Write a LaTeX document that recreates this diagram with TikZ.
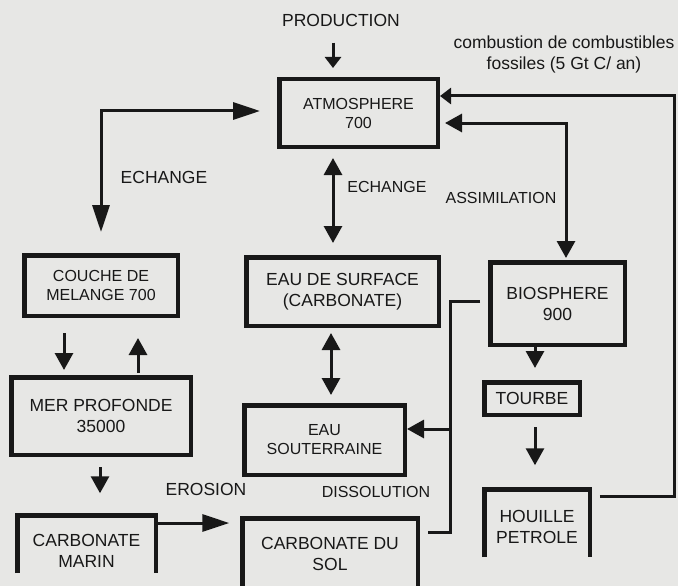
\documentclass[tikz,border=0pt]{standalone}
\usepackage{fontspec}
\setmainfont{Liberation Sans}
\usetikzlibrary{arrows.meta}
\definecolor{ink}{RGB}{24,24,24}
\definecolor{paper}{RGB}{231,231,229}

\begin{document}
\begin{tikzpicture}[x=1pt,y=-1pt,->,>={Triangle[length=17pt,width=18pt]},line width=3pt,color=ink]
\tikzstyle{every node}=[inner sep=0pt,align=center]
\tikzstyle{txt}=[font=\fontsize{16}{19}\selectfont]
\tikzstyle{bigtxt}=[font=\fontsize{17.5}{21}\selectfont]
\tikzstyle{box}=[draw=ink,line width=4.5pt]
\tikzstyle{open box}=[outer sep=0pt]
\tikzstyle{wall}=[-,line width=4.5pt]
\tikzstyle{long tip}=[>={Triangle[length=27pt,width=17pt]}]
\tikzstyle{short tip}=[>={Triangle[length=11pt,width=16pt]}]

\useasboundingbox (0,0) rectangle (678,586);
\fill[paper] (0,0) rectangle (678,586);

% reservoirs
\node[box,txt,minimum width=158.5pt,minimum height=67.5pt] (atm) at (358.5,113) {ATMOSPHERE\\700};
\node[box,txt,minimum width=153.5pt,minimum height=60.5pt] (couche) at (101,285.5) {COUCHE DE\\MELANGE 700};
\node[box,bigtxt,minimum width=192.5pt,minimum height=68.5pt] (surf) at (342.5,291.5) {EAU DE SURFACE\\(CARBONATE)};
\node[box,bigtxt,minimum width=134.5pt,minimum height=82.5pt] (bio) at (557.5,303.5) {BIOSPHERE\\900};
\node[box,bigtxt,minimum width=179.5pt,minimum height=77.5pt] (mer) at (101,416) {MER PROFONDE\\35000};
\node[box,bigtxt,minimum width=95.5pt,minimum height=32.5pt] (tourbe) at (532,398.5) {TOURBE};
\node[box,txt,minimum width=160.5pt,minimum height=69.5pt] (sout) at (324.5,440) {EAU\\SOUTERRAINE};
\node[open box,bigtxt,minimum width=138.5pt,minimum height=71.5pt] (marin) at (86.5,551) {CARBONATE\\MARIN};
\node[open box,bigtxt,minimum width=175.5pt,minimum height=71.5pt] (sol) at (330,554) {CARBONATE DU\\SOL};
\node[open box,bigtxt,minimum width=105.5pt,minimum height=75.5pt] (houille) at (537,527) {HOUILLE\\PETROLE};
\draw[wall] ([yshift=13.75pt]marin.south west) -- (marin.north west) -- (marin.north east) -- ([yshift=13.75pt]marin.south east);
\draw[wall] (sol.south west) -- (sol.north west) -- (sol.north east) -- (sol.south east);
\draw[wall] ([yshift=7.75pt]houille.south west) -- (houille.north west) -- (houille.north east) -- ([yshift=7.75pt]houille.south east);

% labels
\node[bigtxt] (prod) at (341,20) {PRODUCTION};
\node[bigtxt] (comb) at (564,54) {combustion de combustibles\\fossiles (5 Gt C/ an)};
\node[bigtxt] (ech1) at (164,177) {ECHANGE};
\node[txt] (ech2) at (387,187) {ECHANGE};
\node[txt] (assim) at (501,198) {ASSIMILATION};
\node[bigtxt] (eros) at (206,489) {EROSION};
\node[txt] (diss) at (376,492) {DISSOLUTION};

% flows
\coordinate (coin) at (674,96);
\coordinate (jn) at (450,532);
\coordinate (sin) at ([yshift=11pt]sout.east);
\draw[short tip,shorten <=15pt,shorten >=9pt] ([xshift=-8pt]prod.south) -- ([xshift=-8pt]prod.south |- atm.north);
\draw[long tip,<->,shorten <=17pt,shorten >=21pt] ([yshift=2pt]atm.west) -| (couche.north);
\draw[<->,shorten <=9pt,shorten >=12pt] ([xshift=-9.5pt]surf.north |- atm.south) -- ([xshift=-9.5pt]surf.north);
\draw[<->,shorten <=5pt,shorten >=8pt] ([xshift=6.5pt]sout.north |- surf.south) -- ([xshift=6.5pt]sout.north);
\draw[<->,shorten <=5pt,shorten >=2pt] ([yshift=-10pt]atm.east) -| ([xshift=8.5pt]bio.north);
\draw[short tip,shorten <=10pt] ([yshift=-6.75pt]houille.north east) -| (coin) -- (coin -| atm.east);
\draw[-,shorten <=8pt,shorten >=10pt] ([yshift=2.5pt]bio.west) -| (jn) -- (jn -| sol.east);
\draw (sin -| jn) -- (sin);
\path ([xshift=-37pt]couche.south) edge[shorten <=15pt,shorten >=5pt] ([xshift=-37pt]couche.south |- mer.north)
      ([xshift=37pt]couche.south |- mer.north) edge[shorten <=2pt,shorten >=20pt] ([xshift=37pt]couche.south)
      ([xshift=-1pt]mer.south) edge[shorten <=10pt,shorten >=22pt] ([xshift=-1pt]mer.south |- marin.north)
      ([xshift=-22.5pt]bio.south) edge[shorten >=12pt] ([xshift=-22.5pt]bio.south |- tourbe.north)
      ([xshift=3pt]tourbe.south) edge[shorten <=10pt,shorten >=24pt] ([xshift=3pt]tourbe.south |- houille.north);
\draw[long tip,shorten >=13pt] ([yshift=-7.75pt]marin.north east) -- ([yshift=-7.75pt]marin.north east -| sol.west);
\end{tikzpicture}
\end{document}
